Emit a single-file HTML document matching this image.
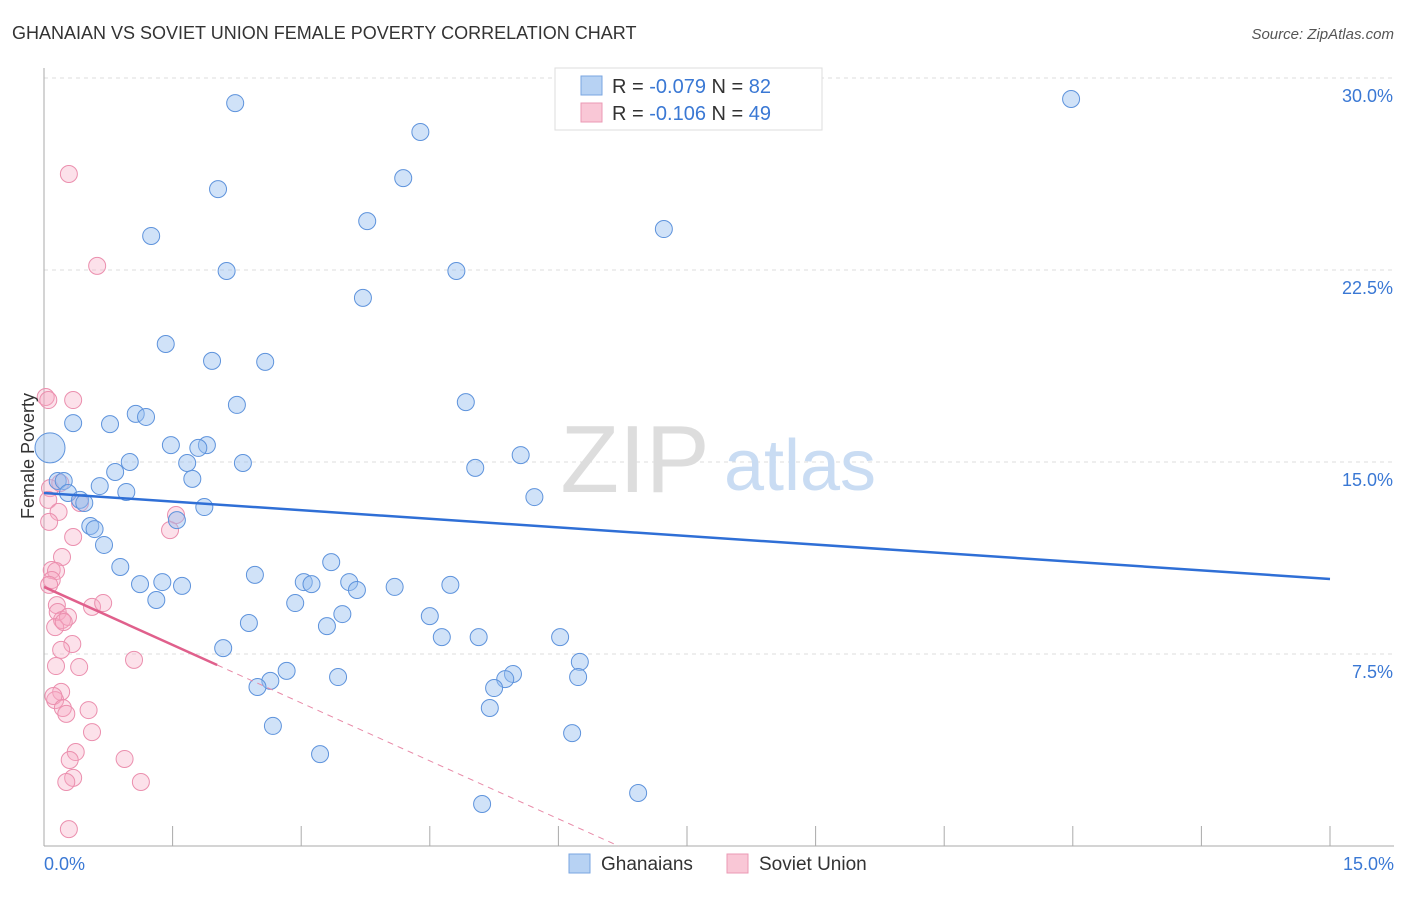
<!DOCTYPE html>
<html><head><meta charset="utf-8"><style>
body{margin:0;background:#fff;font-family:"Liberation Sans",sans-serif}
svg text{font-family:"Liberation Sans",sans-serif}
</style></head><body>
<svg id="c" width="1406" height="892">
<text x="12" y="39" font-size="18" fill="#333">GHANAIAN VS SOVIET UNION FEMALE POVERTY CORRELATION CHART</text>
<text x="1394" y="39" font-size="15" fill="#555" text-anchor="end" font-style="italic">Source: ZipAtlas.com</text>
<g id="grid"></g>
<text x="635" y="492" font-size="96" fill="#ddd" text-anchor="middle" font-family="Liberation Serif">ZIP</text>
<text x="800" y="490" font-size="72" fill="#c9dcf3" text-anchor="middle">atlas</text>
<g id="pts"></g>
<g id="lines"></g>
<text x="34" y="456" font-size="18" fill="#333" text-anchor="middle" transform="rotate(-90 34 456)">Female Poverty</text>
<g>
<rect x="555" y="68" width="267" height="62" fill="#fff" stroke="#ddd"/>
<rect x="581" y="76" width="21" height="19" fill="#b7d2f3" stroke="#7aa6e0"/>
<rect x="581" y="103" width="21" height="19" fill="#f9c7d6" stroke="#eb9ab4"/>
<text x="612" y="93" font-size="20" fill="#333">R = <tspan fill="#3a78d4">-0.079</tspan>   N = <tspan fill="#3a78d4">82</tspan></text>
<text x="612" y="120" font-size="20" fill="#333">R = <tspan fill="#3a78d4"> -0.106</tspan>   N = <tspan fill="#3a78d4">49</tspan></text>
</g>
<g>
<rect x="569" y="854" width="21" height="19" fill="#b7d2f3" stroke="#7aa6e0"/>
<text x="601" y="870" font-size="19" fill="#333">Ghanaians</text>
<rect x="727" y="854" width="21" height="19" fill="#f9c7d6" stroke="#eb9ab4"/>
<text x="759" y="870" font-size="19" fill="#333">Soviet Union</text>
</g>
</svg>
<script>
const xTicks=[0,1.5,3,4.5,6,7.5,9,10.5,12,13.5,15];
const yTicks=[7.5,15,22.5,30];
const blueX=[2.23,4.39,11.98,4.19,2.03,3.77,1.25,7.23,2.13,4.81,3.72,1.42,1.96,2.58,4.92,2.25,1.07,1.19,0.34,0.77,1.48,1.90,1.80,1.00,1.67,2.32,5.56,5.03,0.83,1.73,0.16,0.23,0.65,0.96,0.28,5.72,0.42,0.47,1.87,1.55,0.54,0.59,0.70,3.35,0.89,2.46,1.12,1.38,1.61,3.03,3.12,3.56,3.65,4.09,4.74,1.31,2.93,3.48,4.50,2.39,3.30,4.64,5.07,6.02,2.09,6.25,2.83,2.64,2.49,3.43,5.47,5.38,6.23,5.25,5.20,2.67,6.16,3.22,6.93,5.11,0.07];
const blueY=[29.02,27.89,29.18,26.09,25.66,24.41,23.83,24.10,22.46,22.46,21.41,19.61,18.95,18.91,17.34,17.23,16.88,16.76,16.52,16.48,15.66,15.66,15.55,15.0,14.96,14.96,15.27,14.77,14.61,14.34,14.26,14.26,14.06,13.83,13.79,13.63,13.52,13.40,13.24,12.73,12.5,12.38,11.76,11.09,10.90,10.59,10.23,10.31,10.16,10.31,10.23,10.31,10.0,10.12,10.20,9.61,9.49,9.06,8.98,8.71,8.59,8.16,8.16,8.16,7.73,7.19,6.84,6.45,6.21,6.60,6.72,6.52,6.60,6.17,5.39,4.69,4.41,3.59,2.07,1.64,15.55];
const pinkX=[0.29,0.62,0.02,0.05,0.34,0.07,0.19,0.05,0.42,0.17,0.06,1.54,1.47,0.34,0.21,0.09,0.14,0.09,0.06,0.15,0.16,0.21,0.28,0.13,0.23,0.56,0.69,0.33,0.20,0.14,0.41,1.05,0.20,0.13,0.11,0.22,0.26,0.52,0.56,0.37,0.30,0.94,0.34,0.26,1.13,0.29];
const pinkY=[26.25,22.66,17.54,17.42,17.42,13.98,14.18,13.52,13.40,13.05,12.66,12.93,12.34,12.07,11.29,10.78,10.74,10.39,10.20,9.41,9.14,8.83,8.95,8.55,8.75,9.34,9.49,7.89,7.66,7.03,6.99,7.27,6.02,5.70,5.86,5.39,5.16,5.31,4.45,3.67,3.36,3.40,2.66,2.5,2.5,0.66];
const blueTrend=[13.79,10.43];
const pinkTrend=[10.12,-1.51];
const NS='http://www.w3.org/2000/svg';
const sx=v=>44+v/15*1286, sy=v=>846-v/7.5*192;
function mk(t,a,p){const e=document.createElementNS(NS,t);for(const k in a)e.setAttribute(k,a[k]);p.appendChild(e);return e;}
const grid=document.getElementById('grid');
yTicks.forEach(t=>{
 const l=mk('line',{x1:44,x2:1394,y1:sy(t),y2:sy(t),stroke:'#ddd','stroke-dasharray':'4,4'},grid);
 
 
 const tx=mk('text',{x:1393,y:sy(t)+24,'font-size':18,fill:'#3a78d4','text-anchor':'end'},grid);tx.textContent=t.toFixed(1)+'%';
 
 
});
mk('line',{x1:44,x2:44,y1:68,y2:846,stroke:'#aaa'},grid);
mk('line',{x1:44,x2:1394,y1:846,y2:846,stroke:'#aaa'},grid);
xTicks.forEach(t=>{const l=mk('line',{x1:sx(t),x2:sx(t),y1:826,y2:846,stroke:'#aaa'},grid);
 
 });
[[0,44,'start'],[15,1394,'end']].forEach(([v,x,a])=>{const tx=mk('text',{x:x,y:870,'font-size':18,fill:'#3a78d4','text-anchor':a},grid);tx.textContent=v.toFixed(1)+'%';
 
 });
const pts=document.getElementById('pts');
pinkX.forEach((x,i)=>{const c=mk('circle',{cx:sx(x),cy:sy(pinkY[i]),r:8.5,fill:'rgba(246,170,195,0.35)',stroke:'#eb8fae','stroke-width':1},pts);
 
 });
blueX.forEach((x,i)=>{const c=mk('circle',{cx:sx(x),cy:sy(blueY[i]),r:i==blueX.length-1?15:8.5,fill:'rgba(150,190,240,0.45)',stroke:'#5e93dc','stroke-width':1},pts);
 
 });
const lines=document.getElementById('lines');
let l=mk('line',{x1:sx(0),y1:sy(blueTrend[0]),x2:sx(15),y2:sy(blueTrend[1]),stroke:'#2f6fd6','stroke-width':2.5},lines);


const pAt=x=>pinkTrend[0]+pinkTrend[1]*x;
l=mk('line',{x1:sx(0),y1:sy(pAt(0)),x2:sx(2.02),y2:sy(pAt(2.02)),stroke:'#e0608c','stroke-width':2.5},lines);


const xe=-pinkTrend[0]/pinkTrend[1];
l=mk('line',{x1:sx(2.02),y1:sy(pAt(2.02)),x2:sx(xe),y2:sy(0),stroke:'#e88aa8','stroke-width':1,'stroke-dasharray':'6,5'},lines);


</script>
</body></html>
